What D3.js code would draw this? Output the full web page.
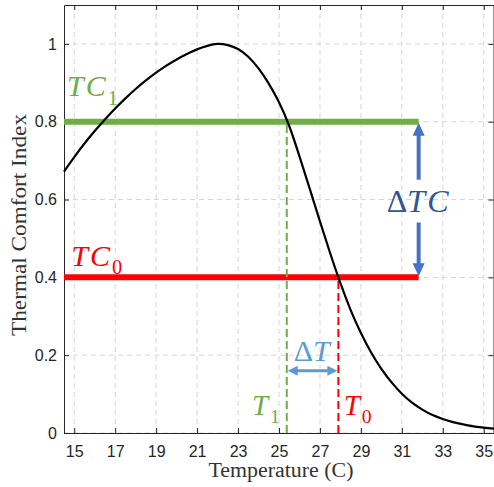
<!DOCTYPE html>
<html><head><meta charset="utf-8">
<script src="https://cdn.jsdelivr.net/npm/d3@7"></script>
<style>body{margin:0;background:#fff}</style>
</head><body>
<svg id="chart" width="494" height="487"></svg>
<script>
// ---- data ----
const temps   = [14.5, 15, 15.5, 16, 16.5, 17, 17.5, 18, 18.5, 19, 19.5, 20, 20.5, 21, 21.5, 22, 22.5, 23, 23.5, 24, 24.5, 25, 25.5, 26, 26.5, 27, 27.5, 28, 28.5, 29, 29.5, 30, 30.5, 31, 31.5, 32, 32.5, 33, 33.5, 34, 34.5, 35, 35.5];
const comfort = [0.672, 0.709, 0.744, 0.776, 0.806, 0.834, 0.860, 0.884, 0.906, 0.926, 0.944, 0.960, 0.974, 0.986, 0.995, 1.0, 0.997, 0.987, 0.967, 0.937, 0.898, 0.850, 0.789, 0.711, 0.628, 0.544, 0.462, 0.385, 0.316, 0.257, 0.207, 0.165, 0.130, 0.101, 0.078, 0.060, 0.046, 0.036, 0.028, 0.022, 0.017, 0.014, 0.011];
const xTicks = [15, 17, 19, 21, 23, 25, 27, 29, 31, 33, 35];
const yTicks = [0, 0.2, 0.4, 0.6, 0.8, 1];
const yTickLabels = ["0", "0.2", "0.4", "0.6", "0.8", "1"];
const tcLevels = [0.8, 0.4];          // TC1, TC0
const tcNames = ["1", "0"];
const tcColors = ["#70AD47", "#FF0000"];
const tempMarks = [25.38, 27.9];      // T1, T0
const levelEnd = 31.82;
const xDomain = [14.5, 35.5];
const yDomain = [0, 1.1];

// ---- scales ----
const svg = d3.select("#chart");
const x = d3.scaleLinear().domain(xDomain).range([64, 494]);
const y = d3.scaleLinear().domain(yDomain).range([433, 5]);
const axisColor = "#262626";

// grid
const grid = svg.append("g");
grid.selectAll("line.vx").data(xTicks).join("line")
  .attr("x1", d => x(d)).attr("x2", d => x(d)).attr("y1", y(yDomain[0])).attr("y2", y(yDomain[1]))
  .attr("stroke", "#d6d6d6").attr("stroke-width", 1).attr("stroke-dasharray", "5,4");
grid.selectAll("line.hy").data(yTicks).join("line")
  .attr("x1", x(xDomain[0])).attr("x2", x(xDomain[1])).attr("y1", d => y(d)).attr("y2", d => y(d))
  .attr("stroke", "#d6d6d6").attr("stroke-width", 1).attr("stroke-dasharray", "5,4");

// axes
function styleAxis(g) {
  g.select(".domain").attr("stroke", axisColor).attr("stroke-width", 1);
  g.selectAll(".tick line").attr("stroke", axisColor);
  g.selectAll("text").attr("fill", axisColor).attr("font-family", "'Liberation Sans', Arial, sans-serif").attr("font-size", "16px");
}
svg.append("g").attr("transform", `translate(0,${y(0)})`)
  .call(d3.axisBottom(x).tickValues(xTicks).tickSize(-5).tickSizeOuter(0).tickPadding(13))
  .call(styleAxis);
svg.append("g").attr("transform", `translate(${x(xDomain[0])},0)`)
  .call(d3.axisLeft(y).tickValues(yTicks).tickFormat((d, i) => yTickLabels[i]).tickSize(-5).tickSizeOuter(0).tickPadding(7))
  .call(styleAxis);
svg.append("g").attr("transform", `translate(0,${y(yDomain[1])})`)
  .call(d3.axisTop(x).tickValues(xTicks).tickFormat("").tickSize(-5).tickSizeOuter(0))
  .call(styleAxis);
svg.append("g").attr("transform", `translate(${x(xDomain[1]) - 0.5},0)`)
  .call(d3.axisRight(y).tickValues(yTicks).tickFormat("").tickSize(-5).tickSizeOuter(0))
  .call(styleAxis);

// axis titles
const serif = "'Liberation Serif', 'Times New Roman', serif";
svg.append("text").attr("x", 281).attr("y", 477).attr("text-anchor", "middle")
  .attr("font-family", serif).attr("font-size", "20px").attr("fill", "#333")
  .attr("textLength", 145).attr("lengthAdjust", "spacingAndGlyphs")
  .text("Temperature (C)");
svg.append("text").attr("transform", "translate(26,225) rotate(-90)").attr("text-anchor", "middle")
  .attr("font-family", serif).attr("font-size", "20px").attr("fill", "#333")
  .attr("textLength", 222).attr("lengthAdjust", "spacingAndGlyphs")
  .text("Thermal Comfort Index");

// horizontal TC lines
svg.selectAll("line.tc").data(tcLevels).join("line")
  .attr("x1", x(xDomain[0])).attr("x2", x(levelEnd))
  .attr("y1", d => y(d)).attr("y2", d => y(d))
  .attr("stroke", (d, i) => tcColors[i]).attr("stroke-width", 6);

// vertical dashed T lines
svg.selectAll("line.tm").data(tempMarks).join("line")
  .attr("x1", d => x(d)).attr("x2", d => x(d))
  .attr("y1", y(0)).attr("y2", (d, i) => y(tcLevels[i]))
  .attr("stroke", (d, i) => tcColors[i]).attr("stroke-width", 2).attr("stroke-dasharray", "8,4");

// curve
const line = d3.line().x((d, i) => x(temps[i])).y(d => y(d)).curve(d3.curveNatural);
svg.append("path").datum(comfort).attr("d", line)
  .attr("fill", "none").attr("stroke", "#000").attr("stroke-width", 2.2);

// ---- arrows ----
function arrowHead(g, tipX, tipY, dir, len, wid, color) {
  let pts;
  if (dir === "up") pts = [[tipX, tipY], [tipX - wid / 2, tipY + len], [tipX + wid / 2, tipY + len]];
  if (dir === "down") pts = [[tipX, tipY], [tipX - wid / 2, tipY - len], [tipX + wid / 2, tipY - len]];
  if (dir === "left") pts = [[tipX, tipY], [tipX + len, tipY - wid / 2], [tipX + len, tipY + wid / 2]];
  if (dir === "right") pts = [[tipX, tipY], [tipX - len, tipY - wid / 2], [tipX - len, tipY + wid / 2]];
  g.append("polygon").attr("points", pts.map(p => p.join(",")).join(" ")).attr("fill", color);
}
const dTCColor = "#4472C4";
const ax = x(levelEnd);
const ga = svg.append("g");
ga.append("line").attr("x1", ax).attr("x2", ax).attr("y1", y(0.8) + 11).attr("y2", y(0.651))
  .attr("stroke", dTCColor).attr("stroke-width", 4);
ga.append("line").attr("x1", ax).attr("x2", ax).attr("y1", y(0.541)).attr("y2", y(0.4) - 11)
  .attr("stroke", dTCColor).attr("stroke-width", 4);
arrowHead(ga, ax, y(0.8) + 1, "up", 13, 12, dTCColor);
arrowHead(ga, ax, y(0.4) - 1, "down", 13, 12, dTCColor);

const dTColor = "#5B9BD5";
const ay = y(0.16);
ga.append("line").attr("x1", x(tempMarks[0]) + 8).attr("x2", x(tempMarks[1]) - 8).attr("y1", ay).attr("y2", ay)
  .attr("stroke", dTColor).attr("stroke-width", 3);
arrowHead(ga, x(tempMarks[0]) + 1, ay, "left", 10, 10, dTColor);
arrowHead(ga, x(tempMarks[1]) - 1, ay, "right", 10, 10, dTColor);

// ---- math labels ----
const mathFont = "'Liberation Serif', 'Times New Roman', serif";
function mathLabel(px, py, parts, size, color, anchor) {
  const t = svg.append("text").attr("x", px).attr("y", py)
    .attr("font-family", mathFont).attr("font-size", size + "px").attr("fill", color)
    .attr("text-anchor", anchor || "start");
  parts.forEach(p => {
    const s = t.append("tspan").text(p.t).attr("font-style", p.i ? "italic" : "normal");
    if (p.sub) s.attr("font-size", (size * 0.68) + "px").attr("dy", size * 0.28).attr("dx", 2);
    if (p.dx) s.attr("dx", p.dx);
  });
  return t;
}
mathLabel(x(14.65), y(0.865), [{t: "T", i: 1}, {t: "C", i: 1, dx: 2}, {t: tcNames[0], sub: 1}], 30, tcColors[0]);
mathLabel(x(14.86), y(0.43), [{t: "T", i: 1}, {t: "C", i: 1, dx: 2}, {t: tcNames[1], sub: 1}], 30, tcColors[1]);
mathLabel(x(23.68), y(0.046), [{t: "T", i: 1}, {t: tcNames[0], sub: 1}], 29, tcColors[0]);
mathLabel(x(28.16), y(0.046), [{t: "T", i: 1}, {t: tcNames[1], sub: 1}], 29, tcColors[1]);
mathLabel(x(levelEnd) - 1, y(0.569), [{t: "Δ"}, {t: "T", i: 1}, {t: "C", i: 1, dx: 2}], 32, "#2F5597", "middle");
mathLabel(x(26.6), y(0.186), [{t: "Δ"}, {t: "T", i: 1}], 30, dTColor, "middle");
</script>
</body></html>
